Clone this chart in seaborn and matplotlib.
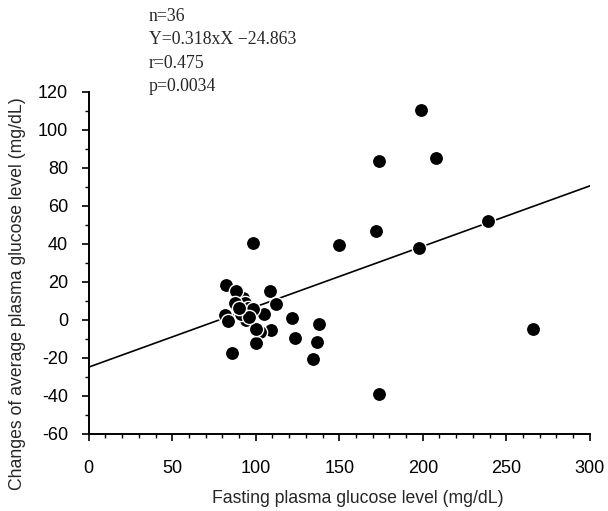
import numpy as np
import pandas as pd
import matplotlib
matplotlib.use('Agg')
import matplotlib.pyplot as plt
import seaborn as sns
from matplotlib.ticker import MultipleLocator

# Values
fpg = [198.7, 173.7, 208.0, 239.0, 198.0, 171.7, 150.0, 98.6, 266.0, 174.0,
       82.4, 108.5, 112.3, 92.4, 81.7, 104.9, 94.2, 121.7, 137.6, 108.9,
       102.6, 123.6, 136.7, 100.4, 85.7, 134.0, 88.3, 93.4, 95.4, 98.4,
       83.3, 87.3, 100.4, 91.0, 96.0, 90.0]
change = [110.4, 83.6, 85.0, 51.9, 37.7, 47.0, 39.5, 40.7, -4.8, -39.0,
          18.2, 15.2, 8.6, 11.6, 2.5, 3.3, 0.2, 1.2, -2.3, -5.3,
          -6.2, -9.3, -11.8, -12.0, -17.6, -20.6, 15.3, 9.0, 6.3, 5.5,
          -0.7, 9.0, -5.0, 3.0, 1.5, 6.0]

# Stated regression: Y = 0.318 x X - 24.863
slope = 0.318
intercept = -24.863
fit_x = [0, 300]

stats_lines = ['n=36', 'Y=0.318xX \u221224.863', 'r=0.475', 'p=0.0034']

df = pd.DataFrame({'fpg': fpg, 'change': change})
fit = pd.DataFrame({'x': fit_x, 'y': [slope * v + intercept for v in fit_x]})

sns.set_style('ticks')
plt.rcParams['font.family'] = ['Liberation Sans', 'DejaVu Sans']
plt.rcParams['axes.unicode_minus'] = False

fig = plt.figure(figsize=(6.08, 5.11), dpi=100)
ax = fig.add_axes([0.146, 0.151, 0.824, 0.669])

sns.lineplot(data=fit, x='x', y='y', ax=ax, color='black', linewidth=1.2)
sns.scatterplot(data=df, x='fpg', y='change', ax=ax, color='black',
                s=105, edgecolor='white', linewidth=1.0, zorder=3)

ax.set_xlim(0, 300)
ax.set_ylim(-60, 120)
ax.xaxis.set_major_locator(MultipleLocator(50))
ax.xaxis.set_minor_locator(MultipleLocator(10))
ax.yaxis.set_major_locator(MultipleLocator(20))
ax.yaxis.set_minor_locator(MultipleLocator(10))
ax.tick_params(which='major', length=5, width=1.2, labelsize=13, colors='black')
ax.tick_params(which='minor', length=3, width=1.0, colors='black')
ax.tick_params(axis='x', which='major', pad=14)
ax.tick_params(axis='y', which='major', pad=10)
for side in ['left', 'bottom']:
    ax.spines[side].set_linewidth(1.4)
    ax.spines[side].set_color('black')
sns.despine(ax=ax)

ax.set_xlabel('Fasting plasma glucose level (mg/dL)', fontsize=12.7)
ax.set_ylabel('Changes of average plasma glucose level (mg/dL)', fontsize=12.7)
ax.xaxis.set_label_coords(0.537, -0.163)
ax.yaxis.set_label_coords(-0.125, 0.41)

for i, line in enumerate(stats_lines):
    fig.text(0.245, 0.968 - i * 0.0457, line, fontsize=12.8,
             family=['Liberation Serif', 'DejaVu Serif'], va='center')

fig.savefig('out.png', dpi=100)
